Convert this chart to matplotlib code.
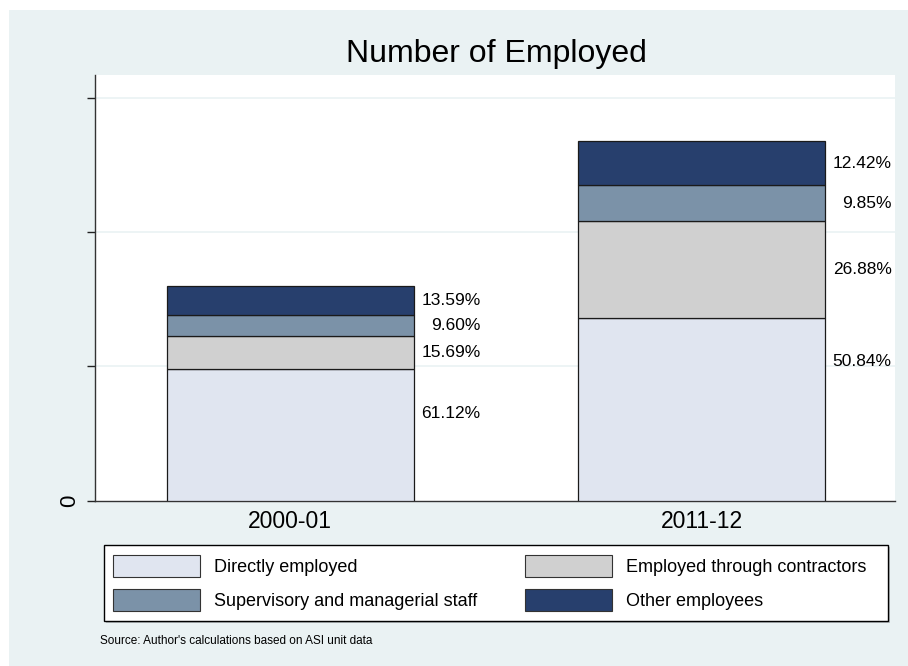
import matplotlib
matplotlib.use("Agg")
import matplotlib.pyplot as plt
from matplotlib.patches import Rectangle, Patch
import numpy as np

plt.rcParams['font.family'] = ['Liberation Sans', 'DejaVu Sans']

# ---- data ----
years = ["2000-01", "2011-12"]
totals = [1.600, 2.683]          # total employed (relative units, axis unlabeled)
categories = ["Directly employed", "Employed through contractors",
              "Supervisory and managerial staff", "Other employees"]
shares_2000 = [61.12, 15.69, 9.60, 13.59]
shares_2011 = [50.84, 26.88, 9.85, 12.42]
share_labels_2000 = ["61.12%", "15.69%", "9.60%", "13.59%"]
share_labels_2011 = ["50.84%", "26.88%", "9.85%", "12.42%"]
yticks = [0, 1, 2, 3]
ytick_labels = ["0", "", "", ""]

colors = ["#E0E5F0", "#D0D0D0", "#7B92A8", "#273F6D"]
bg = "#EAF2F3"

W, H = 908, 666
fig = plt.figure(figsize=(W / 100, H / 100), dpi=100)
fig.patch.set_facecolor("white")
fig.patches.append(Rectangle((9 / W, 0), 1 - 9 / W, 1 - 10 / H, transform=fig.transFigure,
                             facecolor=bg, edgecolor="none", zorder=-10))

ax = fig.add_axes([95 / W, (H - 500.7) / H, 800 / W, (500.7 - 75) / H])
ax.set_facecolor("white")

x = np.arange(len(years))
width = 0.6
shares = [shares_2000, shares_2011]
labels = [share_labels_2000, share_labels_2011]

for i in range(len(years)):
    bottom = 0.0
    for k in range(len(categories)):
        h = totals[i] * shares[i][k] / 100.0
        ax.bar(x[i], h, width=width, bottom=bottom, color=colors[k],
               edgecolor="#1a1a1a", linewidth=0.9, zorder=3)
        if k == 0:
            ly = bottom + h - 0.33
        else:
            ly = bottom + h / 2
        ax.text(x[i] + width / 2 + 0.162, ly, labels[i][k], ha="right", va="center",
                fontsize=12.5, color="black", zorder=4)
        bottom += h

ax.set_xlim(-0.475, 1.47)
ax.set_ylim(0, 3.172)
ax.set_yticks(yticks)
ax.set_yticklabels(ytick_labels, rotation=90, va="center", fontsize=16)
ax.set_xticks(x)
ax.set_xticklabels(years, fontsize=16.5)
ax.tick_params(axis="x", length=0, pad=7)
ax.tick_params(axis="y", length=6, width=1, color="#222222", pad=5)
for yv in yticks[1:]:
    ax.axhline(yv, color=bg, linewidth=1.2, zorder=1)

for s in ["top", "right"]:
    ax.spines[s].set_visible(False)
for s in ["left", "bottom"]:
    ax.spines[s].set_color("#333333")
    ax.spines[s].set_linewidth(1.0)

fig.text(496 / W, 1 - 54 / H, "Number of Employed", ha="center", va="center", fontsize=23)

# legend frame (with slight shadow)
fig.patches.append(Rectangle((106 / W, 1 - 623 / H), (888 - 104) / W, 76 / H,
                             transform=fig.transFigure, facecolor="#B8BEC0",
                             edgecolor="none", zorder=1))
fig.patches.append(Rectangle((104 / W, 1 - 621 / H), (888 - 104) / W, 76 / H,
                             transform=fig.transFigure, facecolor="white",
                             edgecolor="black", linewidth=1.0, zorder=2))

fs = 13
px = fs * 100 / 72.0
handles = [Patch(facecolor=colors[k], edgecolor="#333333", linewidth=0.8) for k in range(4)]
common = dict(loc="upper left", frameon=False, fontsize=fs, handlelength=87 / px,
              handleheight=27 / px, handletextpad=14 / px, labelspacing=12 / px,
              borderpad=0, borderaxespad=0)
leg1 = fig.legend([handles[0], handles[2]], [categories[0], categories[2]],
                  bbox_to_anchor=(113 / W, 1 - 555 / H), **common)
leg2 = fig.legend([handles[1], handles[3]], [categories[1], categories[3]],
                  bbox_to_anchor=(525 / W, 1 - 555 / H), **common)
leg1.set_zorder(5)
leg2.set_zorder(5)

fig.text(100 / W, 1 - 641 / H, "Source: Author's calculations based on ASI unit data",
         ha="left", va="center", fontsize=8.5)

fig.savefig("out.png", dpi=100, facecolor=fig.get_facecolor())
